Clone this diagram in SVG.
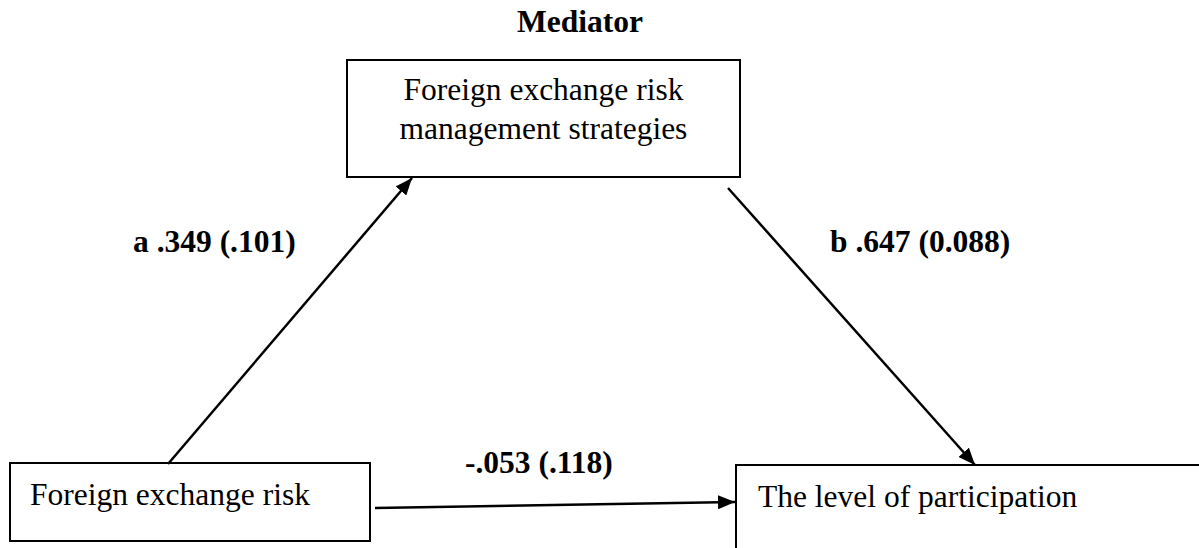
<svg xmlns="http://www.w3.org/2000/svg" width="1199" height="548" viewBox="0 0 1199 548">
<style>
.box{fill:#fff;stroke:#000;stroke-width:2}
.t{font-family:"Liberation Serif","Times New Roman",serif;font-size:31.5px;fill:#000}
.b{font-family:"Liberation Serif","Times New Roman",serif;font-size:31.5px;font-weight:bold;fill:#000}
.c{stroke:#000;stroke-width:2.5;fill:none}
</style>
<defs>
<marker id="ah" markerUnits="userSpaceOnUse" markerWidth="18" markerHeight="14" refX="17" refY="7" orient="auto">
<path d="M0,0 L17,7 L0,14 z" fill="#000"/>
</marker>
</defs>
<rect width="1199" height="548" fill="#fff"/>
<text class="b" x="580" y="32" text-anchor="middle">Mediator</text>
<g id="mediator">
<rect class="box" x="347" y="60" width="393" height="117"/>
<text class="t" x="543.5" y="100" text-anchor="middle">Foreign exchange risk</text>
<text class="t" x="543.5" y="139" text-anchor="middle">management strategies</text>
</g>
<g id="independent">
<rect class="box" x="10" y="463" width="360" height="78"/>
<text class="t" x="30" y="505">Foreign exchange risk</text>
</g>
<g id="dependent">
<rect class="box" x="736" y="465" width="520" height="120"/>
<text class="t" x="758" y="507">The level of participation</text>
</g>
<g id="connectors">
<line class="c" x1="168" y1="464" x2="412" y2="178" marker-end="url(#ah)"/>
<line class="c" x1="728" y1="188" x2="975" y2="465" marker-end="url(#ah)"/>
<line class="c" x1="375" y1="508" x2="735" y2="502" marker-end="url(#ah)"/>
</g>
<g id="labels">
<text class="b" x="133" y="252">a .349 (.101)</text>
<text class="b" x="830" y="252">b .647 (0.088)</text>
<text class="b" x="465" y="473">-.053 (.118)</text>
</g>
</svg>
